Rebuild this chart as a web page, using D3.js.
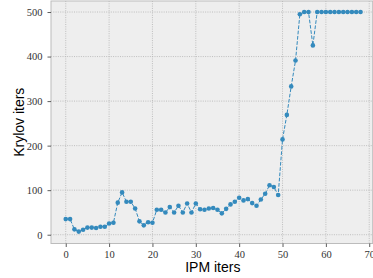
<!DOCTYPE html>
<html>
<head>
<meta charset="utf-8">
<script src="https://cdn.jsdelivr.net/npm/d3@7"></script>
<style>
  body { margin: 0; background: #fff; }
  svg { display: block; }
  .tick text { font-family: "Liberation Serif", "DejaVu Serif", serif; font-size: 10.5px; fill: #333; }
  .axis-label { font-family: "Liberation Sans", Arial, sans-serif; font-size: 14px; fill: #000; }
</style>
</head>
<body>
<div id="chart"></div>
<script>
// IPM iteration index
const ipmIters = d3.range(0, 69);
// Krylov iterations per IPM iteration
const krylovIters = [
  35, 35, 12, 7, 11, 16, 16, 15, 18, 18,
  25, 27, 72, 95, 74, 74, 59, 30, 21, 28,
  27, 56, 56, 50, 62, 50, 65, 50, 70, 50,
  70, 57, 56, 59, 60, 56, 48, 58, 68, 74,
  83, 77, 80, 71, 65, 79, 92, 111, 107, 89,
  214, 269, 333, 391, 495, 500, 500, 425, 500, 500,
  500, 500, 500, 500, 500, 500, 500, 500, 500
];
const xTicks = [0, 10, 20, 30, 40, 50, 60, 70];
const yTicks = [0, 100, 200, 300, 400, 500];

const W = 373, H = 278;
const plot = { left: 51, right: 372.7, top: 1, bottom: 243.5 };

const svg = d3.select('#chart').append('svg')
  .attr('width', W).attr('height', H);

const x = d3.scaleLinear().domain([-3.4, 70.8]).range([plot.left, plot.right]);
const y = d3.scaleLinear().domain([-19.75, 524.75]).range([plot.bottom, plot.top]);

// background
svg.append('rect')
  .attr('x', plot.left).attr('y', plot.top)
  .attr('width', plot.right - plot.left).attr('height', plot.bottom - plot.top)
  .attr('fill', '#eeeeee');

// grid
const grid = svg.append('g');
grid.selectAll('.gx').data(xTicks).enter().append('line')
  .attr('x1', d => x(d)).attr('x2', d => x(d))
  .attr('y1', plot.top).attr('y2', plot.bottom);
grid.selectAll('.gy').data(yTicks).enter().append('line')
  .attr('x1', plot.left).attr('x2', plot.right)
  .attr('y1', d => y(d)).attr('y2', d => y(d));
grid.selectAll('line')
  .attr('stroke', '#b2b2b2').attr('stroke-width', 0.8)
  .attr('stroke-dasharray', '1,1.3');

// frame
svg.append('rect')
  .attr('x', plot.left).attr('y', plot.top)
  .attr('width', plot.right - plot.left).attr('height', plot.bottom - plot.top)
  .attr('fill', 'none').attr('stroke', '#bcbcbc').attr('stroke-width', 1);

// axes
const xAxis = svg.append('g')
  .attr('transform', `translate(0,${plot.bottom})`)
  .call(d3.axisBottom(x).tickValues(xTicks).tickSize(3.5).tickPadding(3.5));
const yAxis = svg.append('g')
  .attr('transform', `translate(${plot.left},0)`)
  .call(d3.axisLeft(y).tickValues(yTicks).tickSize(3.5).tickPadding(5));
[xAxis, yAxis].forEach(a => {
  a.select('.domain').remove();
  a.selectAll('.tick line').attr('stroke', '#333').attr('stroke-width', 0.8);
});

// series
const pts = ipmIters.map((d, i) => [d, krylovIters[i]]);
const line = d3.line().x(d => x(d[0])).y(d => y(d[1]));
svg.append('path')
  .datum(pts)
  .attr('d', line)
  .attr('fill', 'none')
  .attr('stroke', '#348ABD')
  .attr('stroke-width', 1)
  .attr('stroke-dasharray', '3.7,1.6');
svg.selectAll('.dot').data(pts).enter().append('circle')
  .attr('cx', d => x(d[0])).attr('cy', d => y(d[1]))
  .attr('r', 2.3)
  .attr('fill', '#348ABD');

// axis labels
svg.append('text').attr('class', 'axis-label')
  .attr('x', (plot.left + plot.right) / 2 + 1).attr('y', 271.5)
  .attr('text-anchor', 'middle')
  .text('IPM iters');
svg.append('text').attr('class', 'axis-label')
  .attr('transform', `translate(23.5,${(plot.top + plot.bottom) / 2}) rotate(-90)`)
  .attr('text-anchor', 'middle')
  .text('Krylov iters');
</script>
</body>
</html>
